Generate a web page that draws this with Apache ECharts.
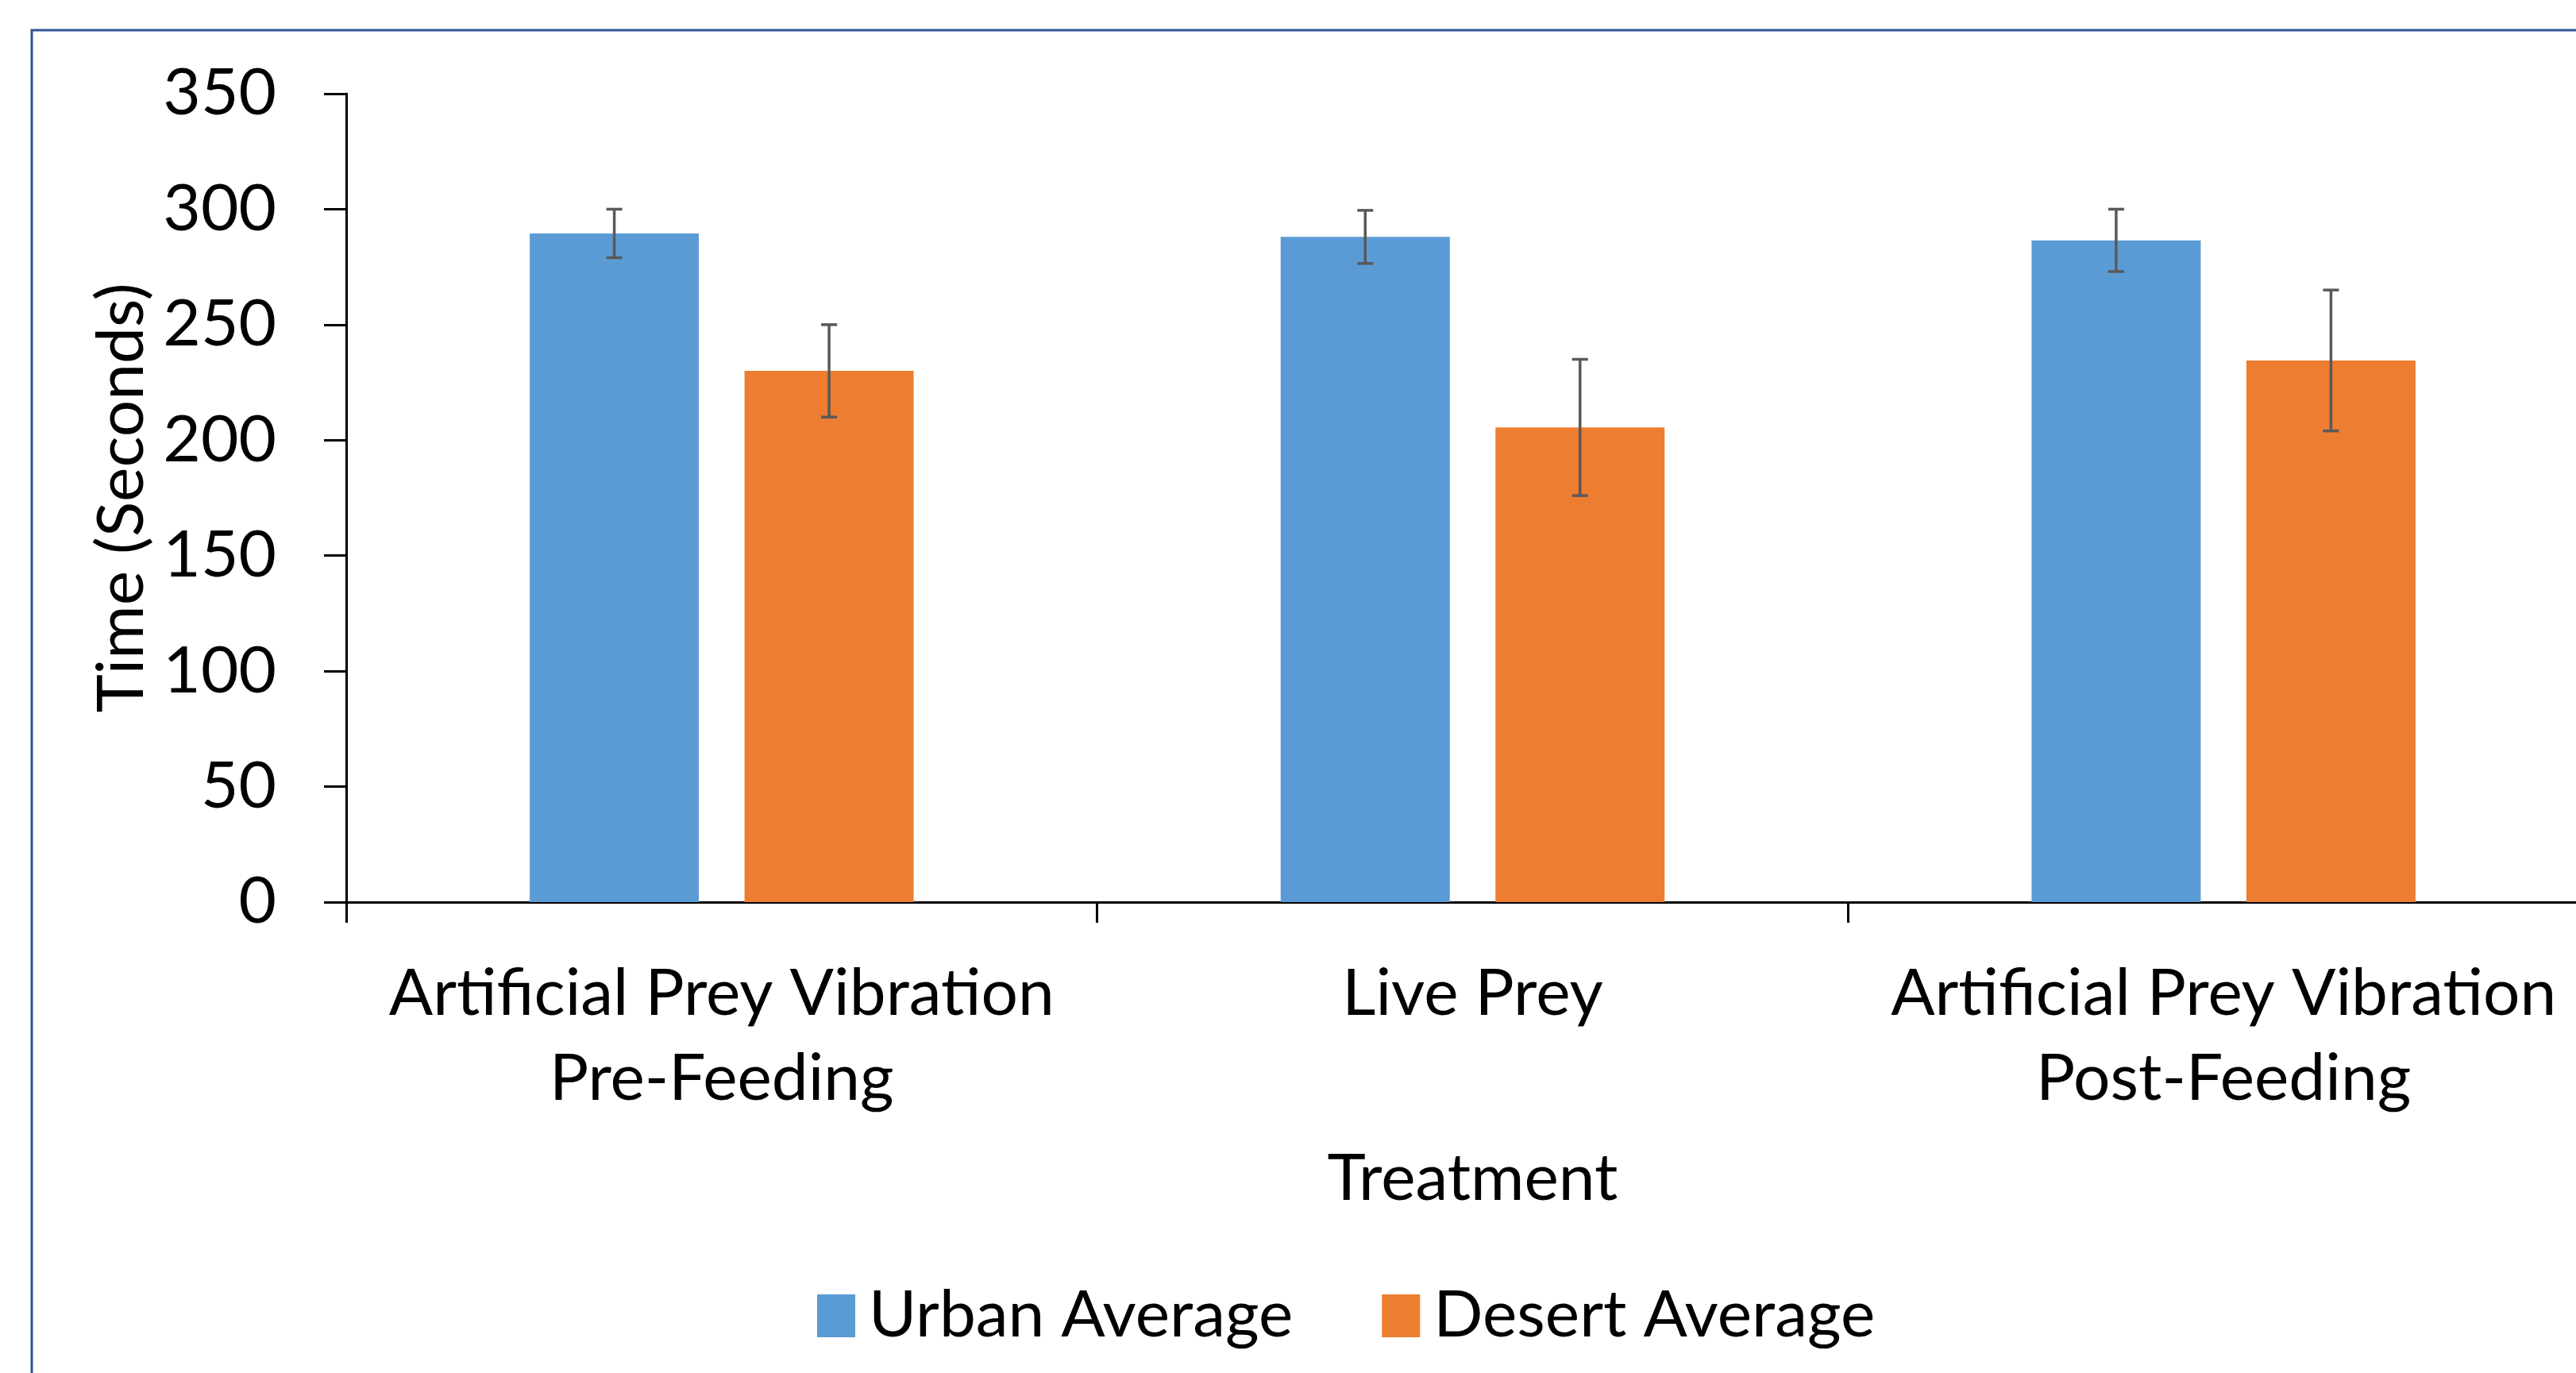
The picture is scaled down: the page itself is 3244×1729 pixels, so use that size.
<!DOCTYPE html>
<html>
<head>
<meta charset="utf-8">
<script src="https://cdn.jsdelivr.net/npm/echarts@6/dist/echarts.min.js"></script>
<style>
html,body{margin:0;padding:0;background:#fff;}
#main{width:3244px;height:1729px;}
</style>
</head>
<body>
<div id="main"></div>
<script>
const categories = ['Artificial Prey Vibration\nPre-Feeding', 'Live Prey', 'Artificial Prey Vibration\nPost-Feeding'];
const seriesNames = ['Urban Average', 'Desert Average'];
const urbanValues = [289.5, 288, 286.5];
const urbanErrors = [10.5, 11.5, 13.5];
const desertValues = [230, 205.5, 234.5];
const desertErrors = [20, 29.5, 30.5];
const yTicks = [0, 50, 100, 150, 200, 250, 300, 350];

const FONT = 'Lato';
const FS = 82;
const BAR_W = 213;
const BAR_GAP = 0.27;

function errorSeries(values, errors, index) {
  const data = values.map((v, i) => [i, v - errors[i], v + errors[i]]);
  return {
    type: 'custom',
    name: seriesNames[index] + ' error',
    silent: true,
    z: 10,
    renderItem: function (params, api) {
      const cat = api.value(0);
      const lo = api.coord([cat, api.value(1)]);
      const hi = api.coord([cat, api.value(2)]);
      const total = 2 * BAR_W + BAR_GAP * BAR_W;
      const offset = -total / 2 + BAR_W / 2 + index * (BAR_W + BAR_GAP * BAR_W);
      const x = lo[0] + offset;
      const cap = 10;
      const style = { stroke: '#595959', lineWidth: 3.5 };
      return {
        type: 'group',
        children: [
          { type: 'line', shape: { x1: x, y1: hi[1], x2: x, y2: lo[1] }, style: style },
          { type: 'line', shape: { x1: x - cap, y1: hi[1], x2: x + cap, y2: hi[1] }, style: style },
          { type: 'line', shape: { x1: x - cap, y1: lo[1], x2: x + cap, y2: lo[1] }, style: style }
        ]
      };
    },
    encode: { x: 0, y: [1, 2] },
    data: data
  };
}

const chart = echarts.init(document.getElementById('main'), null, { renderer: 'canvas' });
chart.setOption({
  animation: false,
  backgroundColor: '#ffffff',
  textStyle: { fontFamily: FONT },
  graphic: [{
    type: 'rect',
    shape: { x: 40, y: 38, width: 3400, height: 1900 },
    style: { fill: 'none', stroke: '#2F5597', lineWidth: 3 },
    z: -1
  }],
  grid: { left: 436, width: 2837, top: 118, bottom: 593, containLabel: false, outerBoundsMode: 'none' },
  legend: {
    left: 1024,
    top: 1611,
    icon: 'rect',
    itemWidth: 48,
    itemHeight: 54,
    itemGap: 112,
    data: seriesNames,
    textStyle: { fontFamily: FONT, fontSize: FS, color: '#000', padding: [0, 0, 0, 12] }
  },
  xAxis: {
    type: 'category',
    data: categories,
    name: 'Treatment',
    nameLocation: 'middle',
    nameGap: 308,
    nameTextStyle: { fontFamily: FONT, fontSize: FS, color: '#000' },
    axisLine: { lineStyle: { color: '#000', width: 3 } },
    axisTick: { show: true, length: 26, lineStyle: { color: '#000', width: 3 } },
    axisLabel: { fontFamily: FONT, fontSize: FS, color: '#000', lineHeight: 107, margin: 62, interval: 0 }
  },
  yAxis: {
    type: 'value',
    min: yTicks[0],
    max: yTicks[yTicks.length - 1],
    interval: 50,
    name: 'Time (Seconds)',
    nameLocation: 'middle',
    nameGap: 224,
    nameTextStyle: { fontFamily: FONT, fontSize: FS, color: '#000' },
    axisLine: { show: true, lineStyle: { color: '#000', width: 3 } },
    axisTick: { show: true, length: 28, lineStyle: { color: '#000', width: 3 } },
    axisLabel: { fontFamily: FONT, fontSize: FS, color: '#000', margin: 88 },
    splitLine: { show: false }
  },
  series: [
    {
      type: 'bar',
      name: seriesNames[0],
      data: urbanValues,
      barWidth: BAR_W,
      barGap: (BAR_GAP * 100) + '%',
      itemStyle: { color: '#5B9BD5' }
    },
    {
      type: 'bar',
      name: seriesNames[1],
      data: desertValues,
      barWidth: BAR_W,
      barGap: (BAR_GAP * 100) + '%',
      itemStyle: { color: '#ED7D31' }
    },
    errorSeries(urbanValues, urbanErrors, 0),
    errorSeries(desertValues, desertErrors, 1)
  ]
});
</script>
</body>
</html>
